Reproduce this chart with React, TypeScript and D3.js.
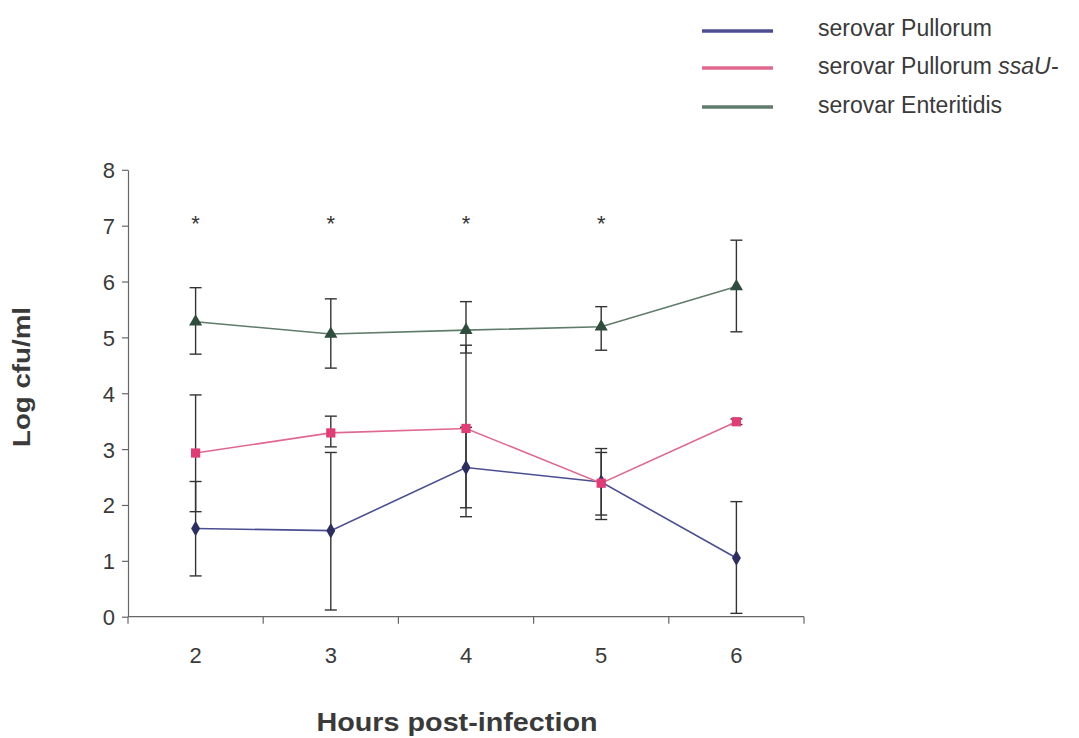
import React, { useEffect, useRef } from "react";
import * as d3 from "d3";

const hours = ["2", "3", "4", "5", "6"];
const yTicks = [0, 1, 2, 3, 4, 5, 6, 7, 8];

const pullorum = [1.58, 1.54, 2.67, 2.41, 1.05];
const pullorumUpper = [2.42, 2.94, 3.39, 2.94, 2.06];
const pullorumLower = [0.73, 0.12, 1.95, 1.82, 0.06];

const ssaU = [2.93, 3.29, 3.37, 2.39, 3.49];
const ssaUUpper = [3.97, 3.59, 4.86, 3.01, 3.54];
const ssaULower = [1.88, 3.04, 1.79, 1.74, 3.44];

const enteritidis = [5.28, 5.06, 5.13, 5.19, 5.91];
const enteritidisUpper = [5.89, 5.69, 5.64, 5.55, 6.74];
const enteritidisLower = [4.7, 4.45, 4.72, 4.77, 5.1];

const starHours = ["2", "3", "4", "5"];
const starLevel = 7.12;

const legendLabels = ["serovar Pullorum", "serovar Pullorum ", "serovar Enteritidis"];

const W = 1079;
const H = 738;
const FONT = "'Liberation Sans', Arial, Helvetica, sans-serif";

const series = [
  { name: "pullorum", values: pullorum, upper: pullorumUpper, lower: pullorumLower, line: "#4b4f92", marker: "#2b2e5e", symbol: d3.symbolDiamond, size: 70 },
  { name: "ssaU", values: ssaU, upper: ssaUUpper, lower: ssaULower, line: "#e0688f", marker: "#e23c76", symbol: d3.symbolSquare, size: 85 },
  { name: "enteritidis", values: enteritidis, upper: enteritidisUpper, lower: enteritidisLower, line: "#5f7c6a", marker: "#2f4d3c", symbol: d3.symbolTriangle, size: 75 },
];

export default function App() {
  const yAxisRef = useRef<SVGGElement>(null);

  const x = d3.scaleBand<string>().domain(hours).range([128, 804]).padding(0);
  const y = d3.scaleLinear().domain([0, 8]).range([616.7, 169.8]);
  const cx = (h: string) => (x(h) as number) + x.bandwidth() / 2;

  useEffect(() => {
    if (!yAxisRef.current) return;
    const g = d3.select(yAxisRef.current);
    g.call(
      d3.axisLeft(y).tickValues(yTicks).tickSize(6).tickSizeOuter(0).tickPadding(7).tickFormat(d3.format("d"))
    );
    g.select(".domain").attr("stroke", "#666").attr("stroke-width", 1.2);
    g.selectAll(".tick line").attr("stroke", "#666").attr("stroke-width", 1.2);
    g.selectAll(".tick text")
      .attr("fill", "#3a3a3a")
      .attr("font-size", 22)
      .attr("font-family", FONT)
      .attr("dy", "0.36em");
  }, []);

  const lineGen = d3
    .line<number>()
    .x((_, i) => cx(hours[i]))
    .y((v) => y(v));

  const boundaries = [...hours.map((h) => x(h) as number), x.range()[1]];
  const capHalf = 6;

  return (
    <svg width={W} height={H} style={{ position: "absolute", left: 0, top: 0, background: "#fff" }}>
      <rect x={0} y={0} width={W} height={H} fill="#fff" />

      {/* legend */}
      {series.map((s, i) => {
        const ly = [31, 68, 107][i];
        const ty = [36, 74, 113][i];
        return (
          <g key={s.name}>
            <line x1={702} x2={773} y1={ly} y2={ly} stroke={s.line} strokeWidth={3.5} />
            <text x={818} y={ty} fontSize={23} fontFamily={FONT} fill="#3a3a3a">
              {legendLabels[i]}
              {i === 1 ? <tspan fontStyle="italic">ssaU-</tspan> : null}
            </text>
          </g>
        );
      })}

      {/* y axis */}
      <g ref={yAxisRef} transform="translate(128,0)" />

      {/* x axis */}
      <line x1={128} x2={804} y1={y(0)} y2={y(0)} stroke="#666" strokeWidth={1.2} />
      {boundaries.map((b, i) => (
        <line key={i} x1={b} x2={b} y1={y(0)} y2={y(0) + 7} stroke="#666" strokeWidth={1.2} />
      ))}
      {hours.map((h) => (
        <text key={h} x={cx(h)} y={663} textAnchor="middle" fontSize={22} fontFamily={FONT} fill="#3a3a3a">
          {h}
        </text>
      ))}

      {/* axis titles */}
      <text
        x={457}
        y={731}
        textAnchor="middle"
        fontSize={25}
        fontWeight="bold"
        fontFamily={FONT}
        fill="#3a3a3a"
        textLength={281}
        lengthAdjust="spacingAndGlyphs"
      >
        Hours post-infection
      </text>
      <text
        transform={`translate(30,377) rotate(-90)`}
        textAnchor="middle"
        fontSize={24}
        fontWeight="bold"
        fontFamily={FONT}
        fill="#3a3a3a"
        textLength={140}
        lengthAdjust="spacingAndGlyphs"
      >
        Log cfu/ml
      </text>

      {/* asterisks */}
      {starHours.map((h) => (
        <text key={h} x={cx(h)} y={y(starLevel) + 12} textAnchor="middle" fontSize={22} fontFamily={FONT} fill="#333">
          *
        </text>
      ))}

      {/* error bars */}
      {series.map((s) => (
        <g key={s.name + "-err"} stroke="#333" strokeWidth={1.4}>
          {s.values.map((v, i) => {
            const px = cx(hours[i]);
            const yu = y(s.upper[i]);
            const yl = y(s.lower[i]);
            return (
              <g key={i}>
                <line x1={px} x2={px} y1={yu} y2={yl} />
                <line x1={px - capHalf} x2={px + capHalf} y1={yu} y2={yu} />
                <line x1={px - capHalf} x2={px + capHalf} y1={yl} y2={yl} />
              </g>
            );
          })}
        </g>
      ))}

      {/* lines */}
      {series.map((s) => (
        <path key={s.name + "-line"} d={lineGen(s.values) || ""} fill="none" stroke={s.line} strokeWidth={1.6} />
      ))}

      {/* markers */}
      {series.map((s) => (
        <g key={s.name + "-mk"}>
          {s.values.map((v, i) => (
            <path
              key={i}
              d={d3.symbol().type(s.symbol).size(s.size)() || ""}
              transform={`translate(${cx(hours[i])},${y(v)})`}
              fill={s.marker}
            />
          ))}
        </g>
      ))}
    </svg>
  );
}
